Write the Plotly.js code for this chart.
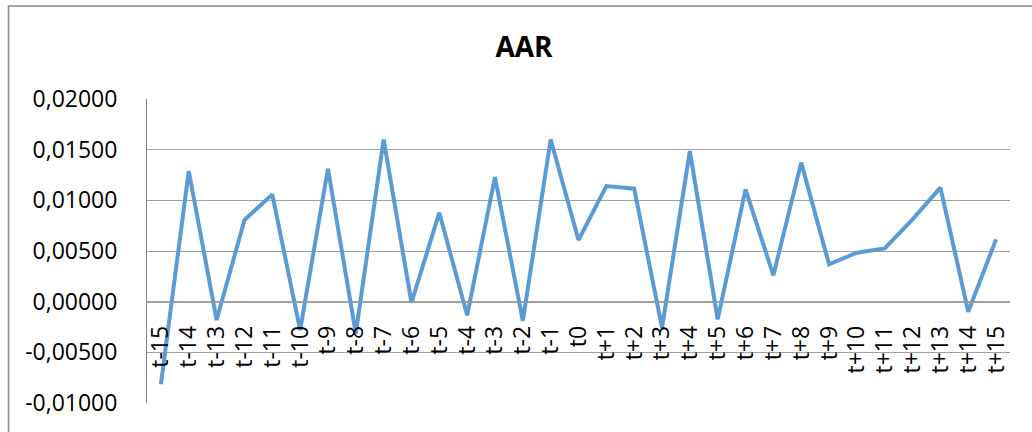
<!DOCTYPE html>
<html>
<head>
<meta charset="utf-8">
<script src="https://cdn.plot.ly/plotly-3.0.1.min.js"></script>
<style>html,body{margin:0;padding:0;background:#fff;}#chart{width:1032px;height:432px;}</style>
</head>
<body>
<div id="chart"></div>
<script>
const categories = ["t-15","t-14","t-13","t-12","t-11","t-10","t-9","t-8","t-7","t-6","t-5","t-4","t-3","t-2","t-1","t0","t+1","t+2","t+3","t+4","t+5","t+6","t+7","t+8","t+9","t+10","t+11","t+12","t+13","t+14","t+15"];
const aar = [-0.00816,0.01289,-0.00181,0.00805,0.01059,-0.00280,0.01312,-0.00313,0.01600,-0.00010,0.00878,-0.00135,0.01230,-0.00190,0.01600,0.00608,0.01141,0.01115,-0.00257,0.01486,-0.00175,0.01108,0.00260,0.01372,0.00368,0.00483,0.00526,0.00812,0.01125,-0.00099,0.00615];
const yTickVals = [-0.01,-0.005,0,0.005,0.01,0.015,0.02];
const yTickText = ["-0,01000","-0,00500","0,00000","0,00500","0,01000","0,01500","0,02000"];

const W = 1032, H = 432;
const mL = 147, mR = 22, mT = 99, mB = 29;
const pw = W - mL - mR, ph = H - mT - mB;
const px2x = p => (p - mL) / pw;
const py2y = p => (H - mB - p) / ph;

const trace = {
  x: categories, y: aar, type: 'scatter', mode: 'lines',
  line: {color: '#5B9BD5', width: 4}, hoverinfo: 'skip'
};

const layout = {
  width: W, height: H,
  margin: {l: mL, r: mR, t: mT, b: mB},
  paper_bgcolor: '#fff', plot_bgcolor: '#fff',
  showlegend: false,
  font: {family: 'Open Sans, sans-serif', color: '#000'},
  title: {text: 'AAR', x: 524 / W, xanchor: 'center', y: 1 - 47 / H, yanchor: 'middle',
          font: {family: 'Open Sans, sans-serif', size: 28, weight: 'bold', color: '#000'}},
  xaxis: {
    type: 'category', range: [-0.5, categories.length - 0.5],
    anchor: 'free', position: 1 / 3, layer: 'above traces',
    tickmode: 'array', tickvals: categories, ticktext: categories,
    showgrid: false, zeroline: false, showline: true, linecolor: '#a0a0a0', linewidth: 1,
    ticks: '', tickangle: -90, ticklabelstandoff: 14,
    tickfont: {family: 'Open Sans, sans-serif', size: 23, color: '#000'}
  },
  yaxis: {
    range: [-0.01, 0.02], tickvals: yTickVals, ticktext: yTickText,
    showgrid: true, gridcolor: '#a0a0a0', gridwidth: 1, zeroline: false,
    showline: true, linecolor: '#868686', linewidth: 1,
    ticks: '', ticklabelstandoff: 24,
    tickfont: {family: 'Open Sans, sans-serif', size: 23, color: '#000'}
  },
  shapes: [{
    type: 'rect', xref: 'paper', yref: 'paper',
    x0: px2x(8.5), x1: px2x(1045), y0: py2y(445), y1: py2y(6),
    line: {color: '#888888', width: 1.5}, fillcolor: 'rgba(0,0,0,0)', layer: 'below'
  }]
};

Plotly.newPlot('chart', [trace], layout, {staticPlot: true, displayModeBar: false});
</script>
</body>
</html>
